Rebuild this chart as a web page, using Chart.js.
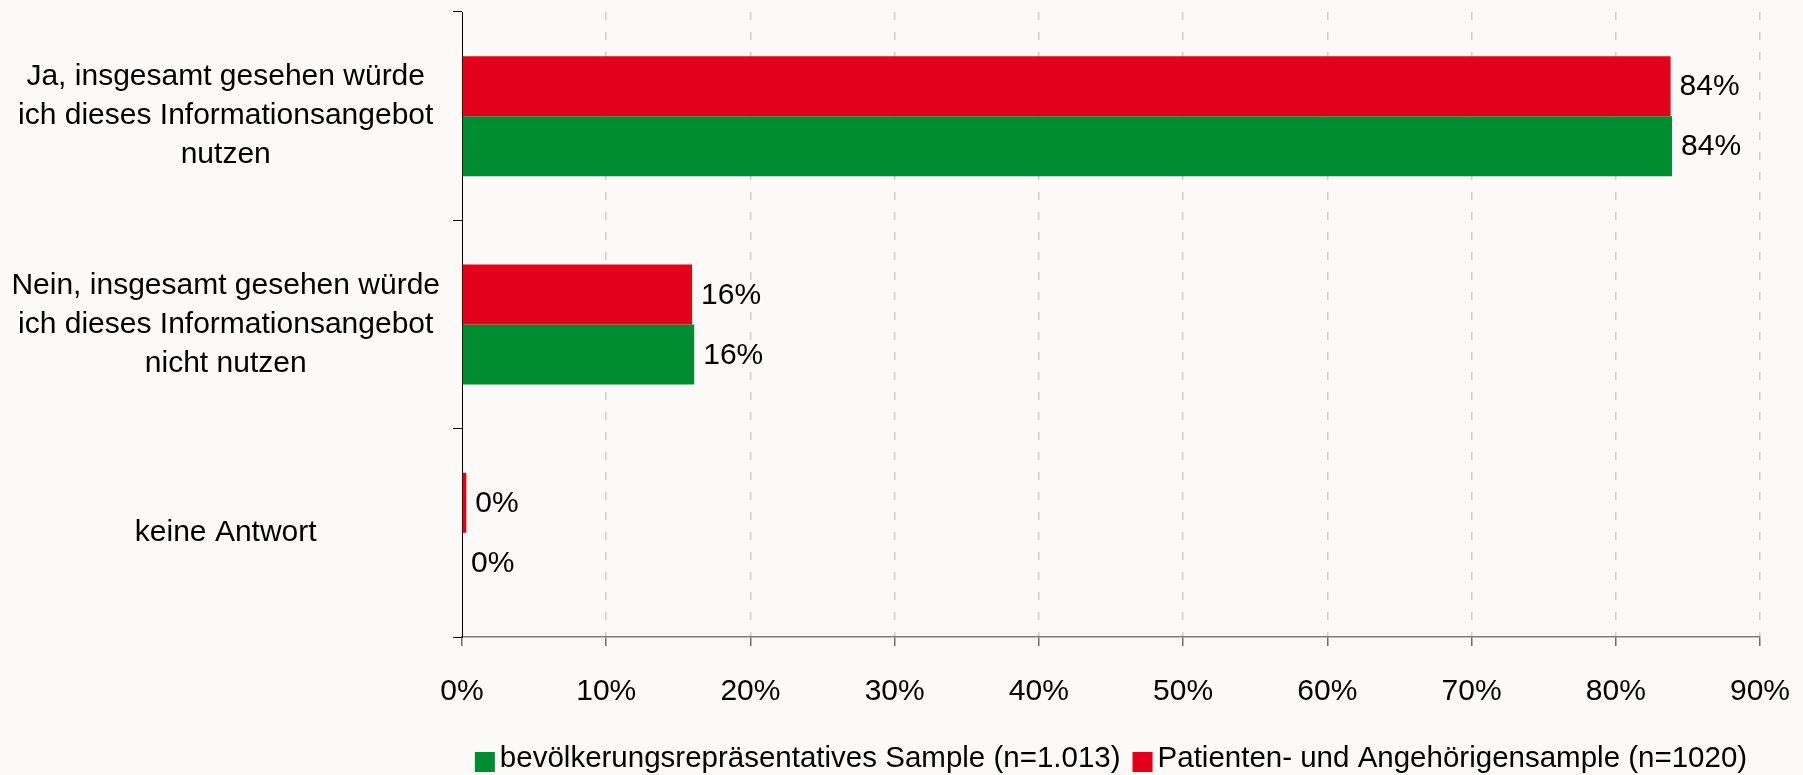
<!DOCTYPE html>
<html><head><meta charset="utf-8">
<script src="https://cdn.jsdelivr.net/npm/chart.js@4.4.0/dist/chart.umd.min.js"></script>
<style>html,body{margin:0;padding:0;background:#fbfaf9;overflow:hidden}#wrap{width:1803px;height:775px;position:relative}</style>
</head><body><div id="wrap"><canvas id="c" width="1803" height="775"></canvas></div>
<script>
// ---- data ----
const categories = [
  ['Ja, insgesamt gesehen würde', 'ich dieses Informationsangebot', 'nutzen'],
  ['Nein, insgesamt gesehen würde', 'ich dieses Informationsangebot', 'nicht nutzen'],
  'keine Antwort'
];
const populationLabel = 'bevölkerungsrepräsentatives Sample (n=1.013)';
const patientLabel = 'Patienten- und Angehörigensample (n=1020)';
const populationValues = [83.9, 16.1, 0.0];
const patientValues = [83.8, 15.95, 0.3];
const xTickValues = [0, 10, 20, 30, 40, 50, 60, 70, 80, 90];

// ---- styles ----
const RED = '#e2001a', GREEN = '#008c30';
const FONT = "'Liberation Sans', Arial, sans-serif";
const FS = 30;
const LEGEND_FS = 29.5;
Chart.defaults.font.family = FONT;
Chart.defaults.font.size = FS;
Chart.defaults.color = '#000';

const bgPlugin = {
  id: 'bg',
  beforeDraw(chart) {
    const c = chart.ctx; c.save(); c.fillStyle = '#fbfaf9';
    c.fillRect(0, 0, chart.width, chart.height); c.restore();
  }
};

const valueLabels = {
  id: 'valueLabels',
  afterDatasetsDraw(chart) {
    const c = chart.ctx; c.save();
    c.font = FS + 'px ' + FONT; c.fillStyle = '#000';
    c.textAlign = 'left'; c.textBaseline = 'middle';
    chart.data.datasets.forEach((ds, di) => {
      const meta = chart.getDatasetMeta(di);
      meta.data.forEach((bar, i) => {
        c.fillText(Math.round(ds.data[i]) + '%', bar.x + 9, bar.y + 1);
      });
    });
    c.restore();
  }
};

const customLegend = {
  id: 'customLegend',
  afterDraw(chart) {
    const c = chart.ctx; c.save();
    c.font = LEGEND_FS + 'px ' + FONT; c.textBaseline = 'alphabetic'; c.textAlign = 'left';
    const items = chart.data.datasets.slice().reverse();
    const box = 20, gapBox = 5, gapItem = 12;
    const widths = items.map(d => box + gapBox + c.measureText(d.label).width);
    const total = widths.reduce((a, b) => a + b, 0) + gapItem * (items.length - 1);
    const ca = chart.chartArea;
    let x = (ca.left + ca.right) / 2 - total / 2;
    const yBox = 752, yText = 767;
    items.forEach((d, i) => {
      c.fillStyle = d.backgroundColor;
      c.fillRect(x, yBox, box, 20);
      c.fillStyle = '#000';
      c.fillText(d.label, x + box + gapBox, yText);
      x += widths[i] + gapItem;
    });
    c.restore();
  }
};

new Chart(document.getElementById('c'), {
  type: 'bar',
  data: {
    labels: categories,
    datasets: [
      { label: patientLabel, data: patientValues, backgroundColor: RED, categoryPercentage: 0.576, barPercentage: 1.0 },
      { label: populationLabel, data: populationValues, backgroundColor: GREEN, categoryPercentage: 0.576, barPercentage: 1.0 }
    ]
  },
  options: {
    indexAxis: 'y',
    responsive: false,
    animation: false,
    layout: { padding: { top: 12, right: 43, bottom: 0, left: 0 } },
    plugins: { legend: { display: false }, tooltip: { enabled: false } },
    scales: {
      x: {
        type: 'linear', min: 0, max: 90,
        afterBuildTicks(scale) { scale.ticks = xTickValues.map(v => ({ value: v })); },
        afterFit(scale) { scale.height = 775 - 637; scale.paddingLeft = 0; scale.paddingRight = 0; },
        ticks: { callback: v => v + '%', padding: 28, maxRotation: 0, autoSkip: false, font: { size: FS } },
        grid: {
          color: ctx => (ctx.tick && ctx.tick.value === 0) ? 'rgba(0,0,0,0)' : '#cdcdcd',
          lineWidth: 1.5,
          tickColor: '#6e6e6e', tickLength: 9, tickWidth: 1.5,
          tickBorderDash: []
        },
        border: { color: '#7a7a7a', width: 1.5, dash: [8, 12] }
      },
      y: {
        type: 'category',
        afterFit(scale) { scale.width = 462; scale.paddingTop = 0; scale.paddingBottom = 0; },
        ticks: { crossAlign: 'center', padding: 13, font: { size: FS, lineHeight: 1.3 }, color: '#000' },
        grid: { offset: true, drawOnChartArea: false, color: '#000', tickLength: 9, lineWidth: 1 },
        border: { color: '#000', width: 1 }
      }
    }
  },
  plugins: [bgPlugin, valueLabels, customLegend]
});
</script>
</body></html>
